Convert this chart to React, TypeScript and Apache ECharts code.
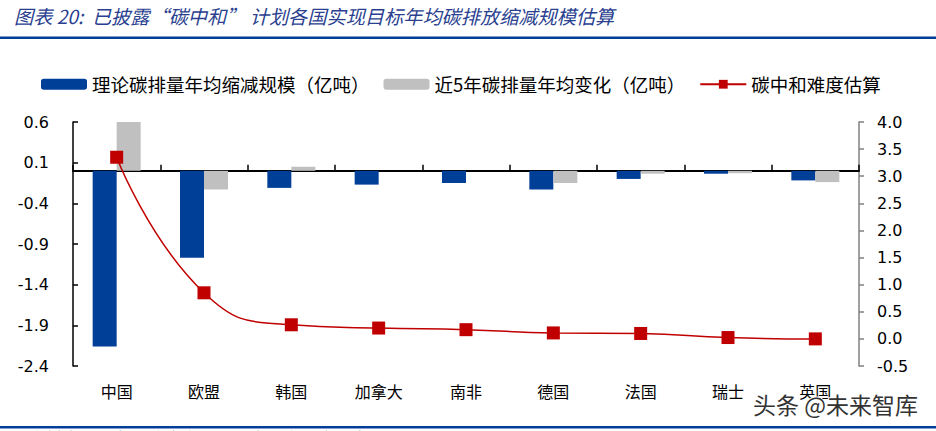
import React, { useEffect, useRef } from "react";
import * as echarts from "echarts";

const categories = ["中国", "欧盟", "韩国", "加拿大", "南非", "德国", "法国", "瑞士", "英国"];
const reductionScale = [-2.16, -1.07, -0.21, -0.17, -0.15, -0.23, -0.1, -0.036, -0.118];
const fiveYearChange = [0.6, -0.23, 0.05, 0.0, 0.0, -0.15, -0.036, -0.03, -0.139];
const difficulty = [3.35, 0.85, 0.26, 0.2, 0.17, 0.11, 0.1, 0.025, 0.0];

const seriesNames = ["理论碳排量年均缩减规模（亿吨）", "近5年碳排量年均变化（亿吨）", "碳中和难度估算"];
const titleText = "图表 20:  已披露“碳中和” 计划各国实现目标年均碳排放缩减规模估算";
const sourceText = "资料来源：各国政府官网，国泰君安证券研究";
const watermarkText = "头条 @未来智库";

const CJK = '"Noto Sans CJK SC", sans-serif';

export default function App() {
  const ref = useRef<HTMLDivElement>(null);
  useEffect(() => {
    const chart = echarts.init(ref.current!, null, { renderer: "svg" });
    const fmt = (v: number) => v.toFixed(1);
    chart.setOption({
      animation: false,
      backgroundColor: "#fff",
      textStyle: { fontFamily: CJK },
      legend: {
        left: 36,
        top: 70,
        itemWidth: 46,
        itemHeight: 11,
        itemGap: 14,
        textStyle: { fontSize: 18.5, color: "#000", fontFamily: CJK },
        data: seriesNames,
      },
      grid: { left: 73, right: 77, top: 122, bottom: 65 },
      xAxis: [
        {
          type: "category",
          data: categories,
          position: "bottom",
          axisLine: { show: true, onZero: true, onZeroAxisIndex: 0, lineStyle: { color: "#000", width: 2 } },
          axisTick: { show: true, inside: true, length: 6, lineStyle: { color: "#000", width: 1.5 } },
          axisLabel: { show: false },
          splitLine: { show: false },
        },
        {
          type: "category",
          data: categories,
          position: "bottom",
          axisLine: { show: false, onZero: false },
          axisTick: { show: false },
          axisLabel: { margin: 17, fontSize: 16, color: "#000", fontFamily: CJK },
          splitLine: { show: false },
        },
      ],
      yAxis: [
        {
          type: "value",
          min: -2.4,
          max: 0.6,
          interval: 0.5,
          position: "left",
          axisLine: { show: true, lineStyle: { color: "#000", width: 1.5 } },
          axisTick: { show: true, inside: true, length: 5, lineStyle: { color: "#000", width: 1.5 } },
          axisLabel: { formatter: fmt, fontSize: 16, color: "#000", fontFamily: "DejaVu Sans", margin: 24 },
          splitLine: { show: false },
        },
        {
          type: "value",
          min: -0.5,
          max: 4,
          interval: 0.5,
          position: "right",
          axisLine: { show: true, lineStyle: { color: "#808080", width: 1.5 } },
          axisTick: { show: true, inside: false, length: 5, lineStyle: { color: "#808080", width: 1.5 } },
          axisLabel: { formatter: fmt, fontSize: 16, color: "#000", fontFamily: "DejaVu Sans", margin: 18 },
          splitLine: { show: false },
        },
      ],
      series: [
        {
          name: seriesNames[0],
          type: "bar",
          xAxisIndex: 0,
          yAxisIndex: 0,
          data: reductionScale,
          barWidth: 24,
          barGap: "0%",
          itemStyle: { color: "#003F98" },
        },
        {
          name: seriesNames[1],
          type: "bar",
          xAxisIndex: 0,
          yAxisIndex: 0,
          data: fiveYearChange,
          barWidth: 24,
          barGap: "0%",
          itemStyle: { color: "#C0C0C0" },
        },
        {
          name: seriesNames[2],
          type: "line",
          xAxisIndex: 0,
          yAxisIndex: 1,
          data: difficulty,
          smooth: true,
          symbol: "rect",
          symbolSize: 13,
          lineStyle: { color: "#C00000", width: 1.5 },
          itemStyle: { color: "#C00000" },
          z: 5,
        },
      ],
      graphic: [
        {
          type: "text",
          left: 14,
          top: 6,
          style: { text: titleText, font: `italic 19.2px ${CJK}`, fill: "#2A3F8F" },
        },
        { type: "rect", shape: { x: 0, y: 36.5, width: 936, height: 2.5 }, style: { fill: "#003F98" } },
        { type: "rect", shape: { x: 0, y: 426, width: 936, height: 2.5 }, style: { fill: "#003F98" } },
        {
          type: "text",
          left: 25,
          top: 429,
          style: { text: sourceText, font: `italic 17px ${CJK}`, fill: "#2A3F8F" },
        },
        {
          type: "text",
          left: 752,
          top: 391,
          z: 100,
          style: {
            text: watermarkText,
            font: `23px ${CJK}`,
            fill: "#333",
            stroke: "#fff",
            lineWidth: 2,
          },
        },
      ],
    });
    return () => chart.dispose();
  }, []);
  return (
    <div
      ref={ref}
      style={{ position: "fixed", left: 0, top: 0, width: 936, height: 431, background: "#fff" }}
    />
  );
}
